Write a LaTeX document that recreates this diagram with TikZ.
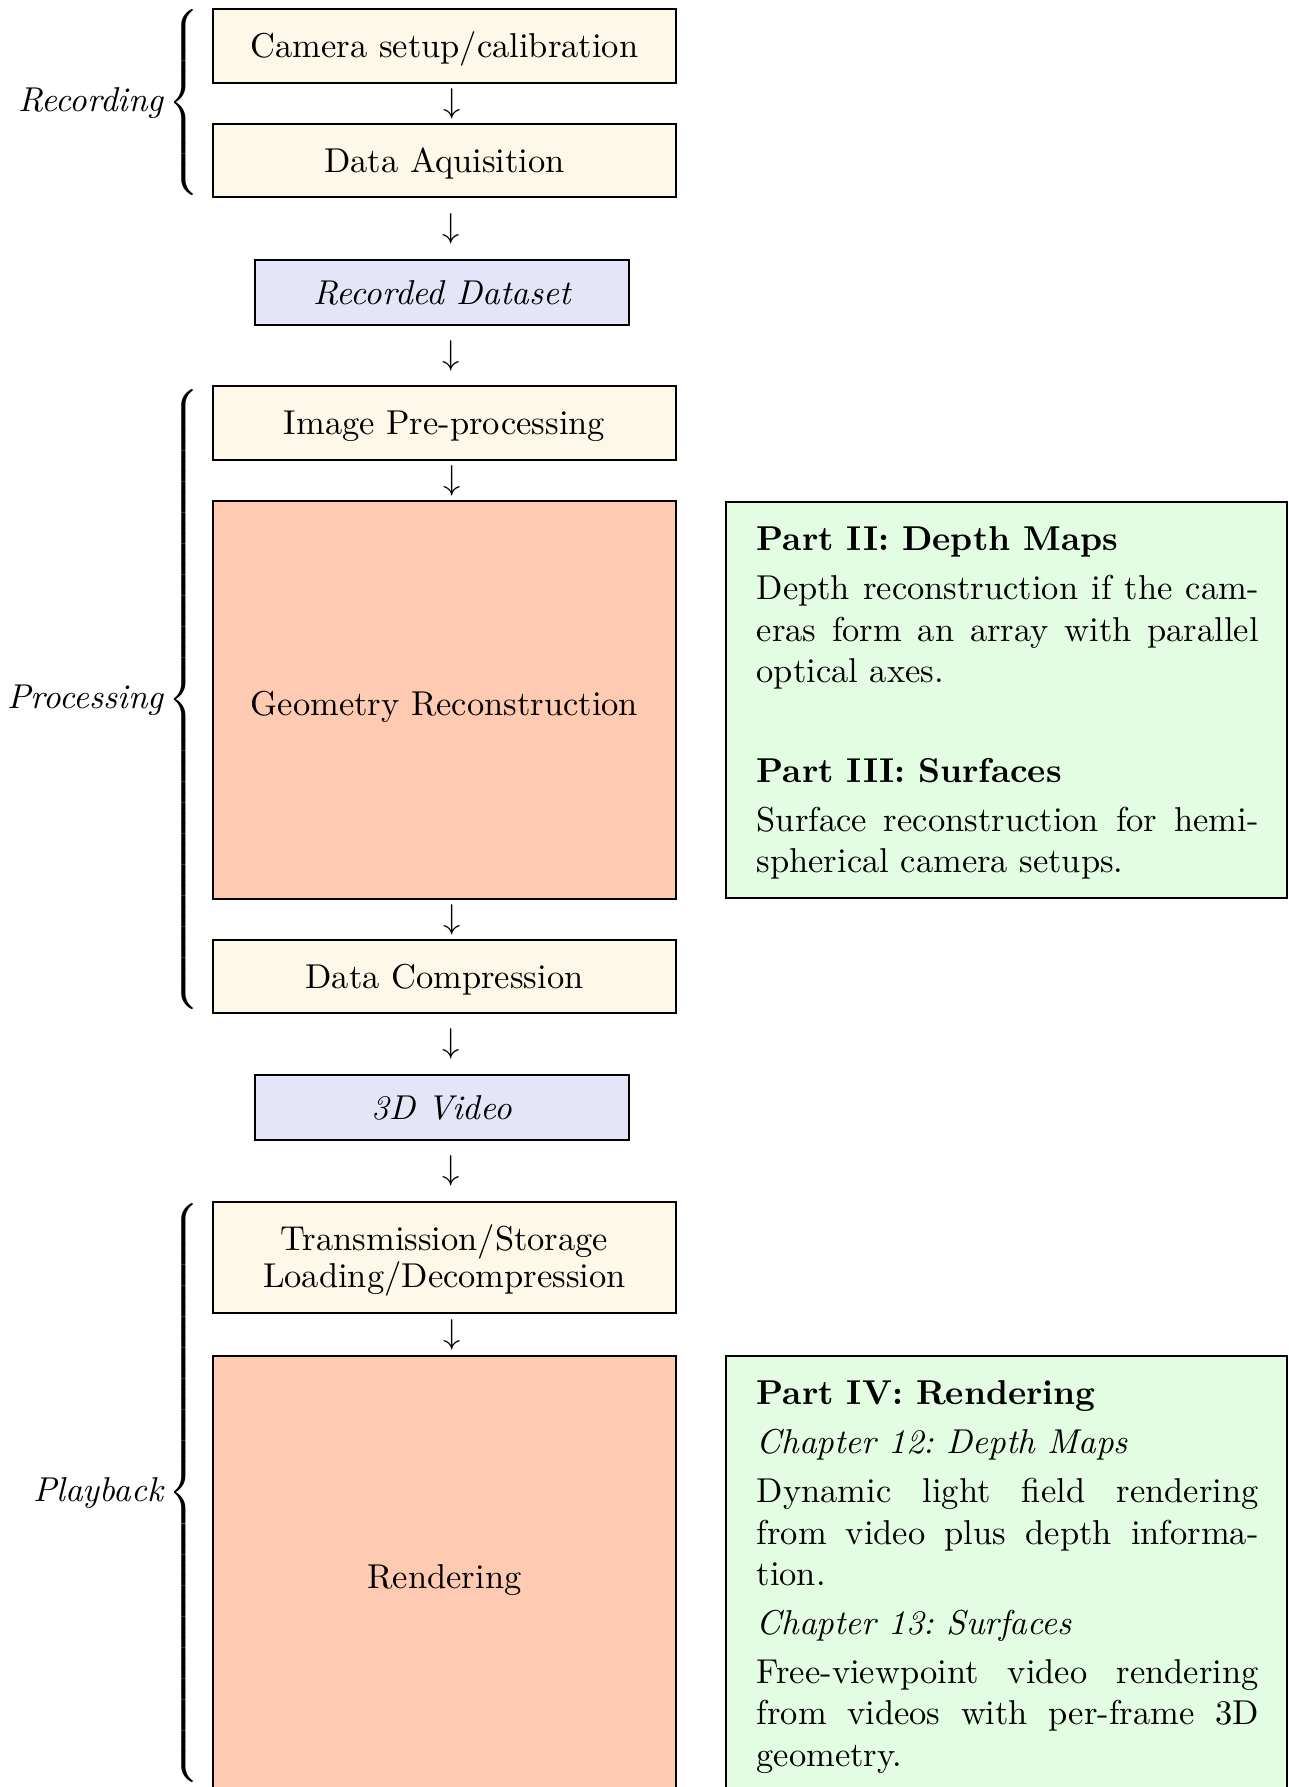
\documentclass[tikz,border=0pt]{standalone}
\usetikzlibrary{calc}
\definecolor{cream}{HTML}{FDF8E7}
\definecolor{lavender}{HTML}{E5E5FA}
\definecolor{salmon}{HTML}{FECAB2}
\definecolor{mint}{HTML}{E3FDE3}
\def\U{0.28986pt}
\delimitershortfall=0pt
\delimiterfactor=1000
\frenchspacing
\newcommand\bracefor[2]{\textit{#1}\kern1pt$\left\{\vcenter{\hrule height #2 width 0pt}\right.$}
\tikzset{
  boxbase/.style={draw, line width=0.8pt, fill=cream, minimum width=463*\U, inner sep=0pt, align=center},
  stagebox/.style={boxbase, text height=9.2pt, text depth=2.5pt},
  databox/.style={draw, line width=0.8pt, fill=lavender, minimum width=374*\U, minimum height=65*\U, inner sep=0pt, font=\itshape},
  bigbox/.style={stagebox, fill=salmon},
  notebox/.style={draw, line width=0.8pt, fill=mint, minimum width=561*\U, inner sep=0pt},
  notetext/.style={anchor=north west, inner sep=0pt, text width=145.5pt, align=justify},
  flowarrow/.style={inner sep=0pt},
  phase/.style={anchor=east, inner sep=0pt},
}
\begin{document}
\begin{tikzpicture}[x=\U, y=-\U]
\clip (0,0) rectangle (1289,1787);
% main column
\node[stagebox, minimum height=74*\U] (cam) at (444.5,46) {Camera setup/calibration};
\node[stagebox, minimum height=73*\U] (daq) at (444.5,160.5) {Data Aquisition};
\node[databox] (rec) at (442,292.5) {Recorded Dataset};
\node[stagebox, minimum height=74*\U] (pre) at (444.5,423) {Image Pre-processing};
\node[bigbox, minimum height=398*\U, text height=11.5pt] (geo) at (444.5,700) {Geometry Reconstruction};
\node[stagebox, minimum height=73*\U] (comp) at (444.5,976.5) {Data Compression};
\node[databox] (vid) at (442,1107.5) {3D Video};
\node[boxbase, minimum height=111*\U] (trans) at (444.5,1257.5) {\rule{0pt}{9pt}Transmission/Storage\\[-1.4pt]Loading/Decompression};
\node[bigbox, minimum height=442*\U] (rend) at (444.5,1577) {Rendering};
% arrows
\node[flowarrow] (a1) at ($(cam.south)!0.5!(daq.north)+(8,0)$) {$\downarrow$};
\node[flowarrow] (a2) at ($(daq.south)!0.5!(rec.north)+(8,0)$) {$\downarrow$};
\node[flowarrow] (a3) at ($(rec.south)!0.5!(pre.north)+(8,0)$) {$\downarrow$};
\node[flowarrow] (a4) at ($(pre.south)!0.5!(geo.north)+(8,0)$) {$\downarrow$};
\node[flowarrow] (a5) at ($(geo.south)!0.5!(comp.north)+(8,0)$) {$\downarrow$};
\node[flowarrow] (a6) at ($(comp.south)!0.5!(vid.north)+(8,0)$) {$\downarrow$};
\node[flowarrow] (a7) at ($(vid.south)!0.5!(trans.north)+(8,0)$) {$\downarrow$};
\node[flowarrow] (a8) at ($(trans.south)!0.5!(rend.north)+(8,0)$) {$\downarrow$};
% phase braces
\node[phase] (recording) at (203.5,102.5) {\bracefor{Recording}{53pt}};
\node[phase] (processing) at (203.5,699.5) {\bracefor{Processing}{177pt}};
\node[phase] (playback) at (203.5,1493) {\bracefor{Playback}{166pt}};
% notes
\node[notebox, minimum height=396*\U] (g1) at (1006.5,700) {};
\node[notetext] (t1) at (756,526) {\parindent=0pt
\textbf{Part II: Depth Maps}\par\vspace{2.2pt}
Depth reconstruction if the cam-\linebreak eras form an array with parallel\linebreak optical axes.\par\vspace{17pt}
\textbf{Part III: Surfaces}\par\vspace{2.2pt}
Surface reconstruction for hemi-\linebreak spherical camera setups.};
\node[notebox, minimum height=442*\U] (g2) at (1006.5,1577) {};
\node[notetext] (t2) at (756,1380) {\parindent=0pt
\textbf{Part IV: Rendering}\par\vspace{2.2pt}
\textit{Chapter 12: Depth Maps}\par\vspace{2.2pt}
Dynamic light field rendering\linebreak from video plus depth informa-\linebreak tion.\par\vspace{2.2pt}
\textit{Chapter 13: Surfaces}\par\vspace{2.2pt}
Free-viewpoint video rendering\linebreak from videos with per-frame 3D\linebreak geometry.};
\end{tikzpicture}
\end{document}
